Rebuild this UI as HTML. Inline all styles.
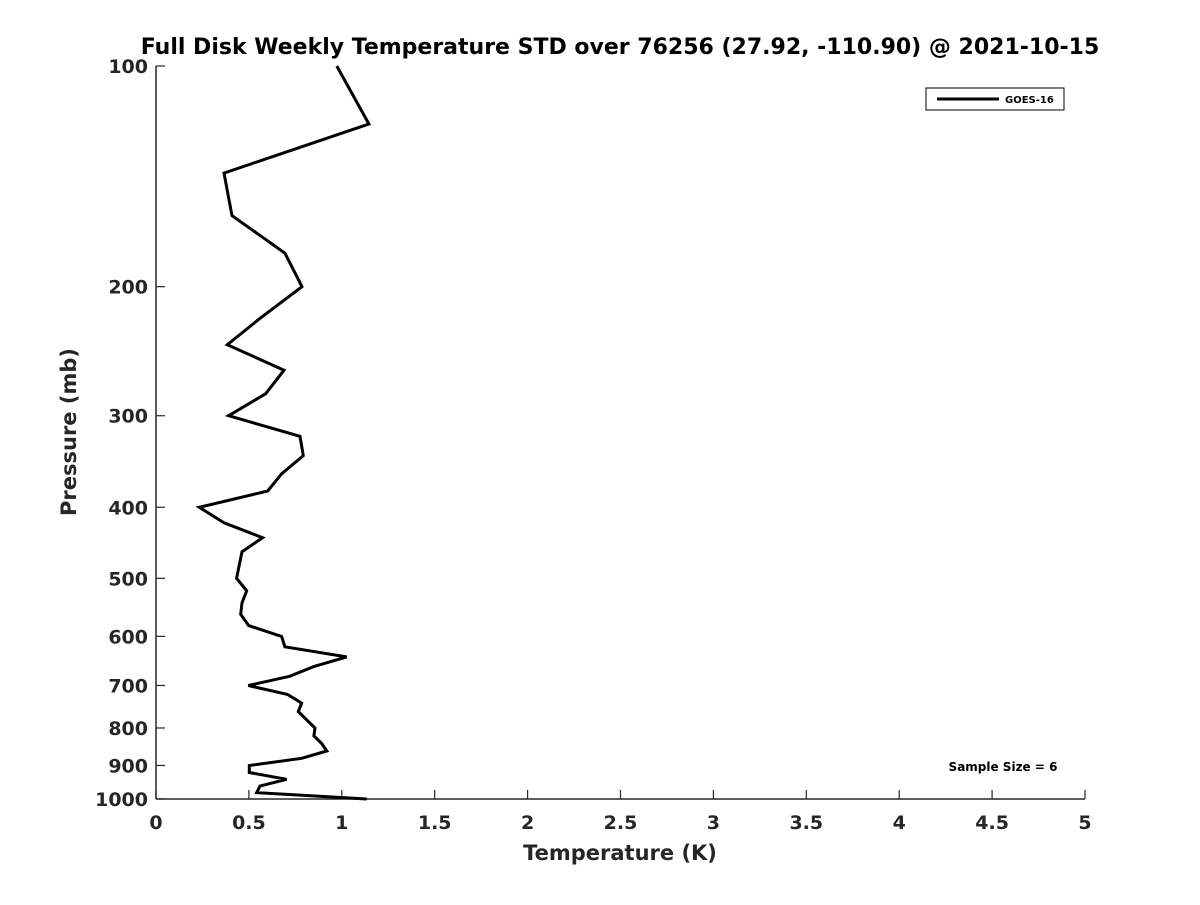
<!DOCTYPE html>
<html><head><meta charset="utf-8"><style>
body{margin:0;background:#fff;font-family:"Liberation Sans","DejaVu Sans",sans-serif}
svg text{font-family:"DejaVu Sans","Liberation Sans",sans-serif;font-weight:bold}
</style></head><body>
<svg id="chart" width="1200" height="900" xmlns="http://www.w3.org/2000/svg">
<rect width="1200" height="900" fill="#fff"/>
<text x="620" y="54" text-anchor="middle" font-size="22" fill="#000">Full Disk Weekly Temperature STD over 76256 (27.92, -110.90) @ 2021-10-15</text>
<g id="axes"></g>
<text x="620" y="860" text-anchor="middle" font-size="21" fill="#262626">Temperature (K)</text>
<text transform="translate(76,432) rotate(-90)" text-anchor="middle" font-size="21" fill="#262626">Pressure (mb)</text>
<g>
<rect x="926" y="88" width="138" height="22" fill="#fff" stroke="#000" stroke-width="1"/>
<line x1="937" y1="99" x2="999" y2="99" stroke="#000" stroke-width="3"/>
<text x="1005" y="103" font-size="10" fill="#000">GOES-16</text>
</g>
<text x="1003" y="771" text-anchor="middle" font-size="12" fill="#000">Sample Size = 6</text>
</svg>
<script>
const pressures=[100,120,140,160,180,200,220,240,260,280,300,320,340,360,380,400,420,440,460,480,500,520,540,560,580,600,620,640,660,680,700,720,740,760,800,820,840,860,880,900,920,940,960,980,1000];
const tempStd=[0.973,1.146,0.366,0.409,0.694,0.786,0.569,0.384,0.689,0.590,0.391,0.775,0.793,0.676,0.601,0.233,0.366,0.574,0.463,0.448,0.434,0.488,0.463,0.456,0.499,0.676,0.694,1.026,0.847,0.721,0.497,0.707,0.784,0.766,0.856,0.850,0.892,0.919,0.784,0.502,0.502,0.703,0.560,0.542,1.134];
const xTicks=[0,0.5,1,1.5,2,2.5,3,3.5,4,4.5,5];
const yTicks=[100,200,300,400,500,600,700,800,900,1000];
const X0=156,X1=1085,Y0=66,Y1=799;
const xs=v=>X0+(v/5)*(X1-X0);
const ys=p=>Y0+Math.log10(p/100)*(Y1-Y0);
const NS="http://www.w3.org/2000/svg";
const svg=document.getElementById('chart');
const axes=document.getElementById('axes');
function mk(t,a,parent){const e=document.createElementNS(NS,t);for(const k in a)e.setAttribute(k,a[k]);(parent||axes).appendChild(e);return e;}
let l=mk('line',{x1:X0,y1:Y0,x2:X0,y2:Y1,stroke:'#262626','stroke-width':1.5});


l=mk('line',{x1:X0,y1:Y1,x2:X1,y2:Y1,stroke:'#262626','stroke-width':1.5});


xTicks.forEach(v=>{const x=xs(v);
 mk('line',{x1:x,y1:Y1,x2:x,y2:Y1-9,stroke:'#262626','stroke-width':1.2});
 const t=mk('text',{x:x,y:Y1+30,'text-anchor':'middle','font-size':19,fill:'#262626'});
 
 
 t.textContent=String(v);});
yTicks.forEach(p=>{const y=ys(p);
 mk('line',{x1:X0,y1:y,x2:X0+9,y2:y,stroke:'#262626','stroke-width':1.2});
 const t=mk('text',{x:X0-8,y:y+7,'text-anchor':'end','font-size':19,fill:'#262626'});
 
 
 t.textContent=String(p);});
const pts=pressures.map((p,i)=>xs(tempStd[i]).toFixed(1)+','+ys(p).toFixed(1)).join(' ');
const pl=mk('polyline',{points:pts,fill:'none',stroke:'#000','stroke-width':3,'stroke-linejoin':'miter'},svg);


</script>
</body></html>
